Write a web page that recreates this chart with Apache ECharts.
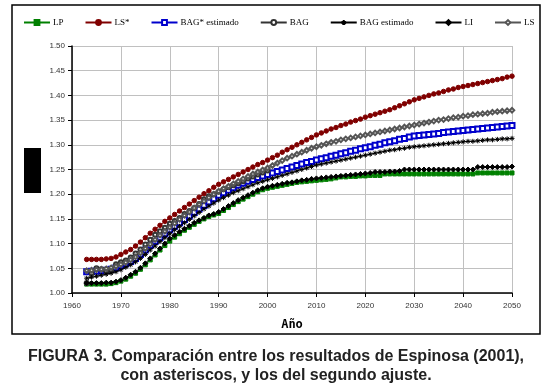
<!DOCTYPE html>
<html lang="es">
<head>
    <meta charset="UTF-8">
    <script src="https://cdn.jsdelivr.net/npm/echarts@6/dist/echarts.min.js"></script>
    <style>
        body { margin: 0; background: #fff; }
    </style>
</head>
<body>
<div id="chart" style="width: 553px;height: 392px"></div>
<script>
    // años 1963 - 2050
    var years = [];
    for (var y = 1963; y <= 2050; y++) years.push(y);

    var xTicks = [1960, 1970, 1980, 1990, 2000, 2010, 2020, 2030, 2040, 2050];
    var yTicks = [1.00, 1.05, 1.10, 1.15, 1.20, 1.25, 1.30, 1.35, 1.40, 1.45, 1.50];

    var names = ['LP', 'LS*', 'BAG* estimado', 'BAG', 'BAG estimado', 'LI', 'LS'];

    var lp = [1.018, 1.018, 1.018, 1.018, 1.018, 1.019, 1.021,
        1.024, 1.028, 1.034, 1.040, 1.048, 1.057, 1.067, 1.077, 1.087, 1.096,
        1.105, 1.113, 1.120, 1.127, 1.133, 1.139, 1.145, 1.150, 1.155, 1.158,
        1.161, 1.167, 1.173, 1.179, 1.185, 1.190, 1.195, 1.200, 1.205, 1.209,
        1.212, 1.214, 1.216, 1.218, 1.220, 1.222, 1.224, 1.225, 1.226, 1.227,
        1.228, 1.229, 1.230, 1.231, 1.233, 1.235, 1.235, 1.236, 1.236, 1.237,
        1.237, 1.238, 1.238, 1.238, 1.241, 1.241, 1.241, 1.241, 1.241, 1.241,
        1.241, 1.241, 1.241, 1.241, 1.241, 1.241, 1.241, 1.241, 1.241, 1.241,
        1.241, 1.241, 1.241, 1.243, 1.243, 1.243, 1.243, 1.243, 1.243, 1.243, 1.243];

    var lsEsp = [1.068, 1.068, 1.068, 1.068, 1.069, 1.070, 1.073,
        1.078, 1.083, 1.088, 1.095, 1.103, 1.112, 1.121, 1.129, 1.137, 1.145,
        1.152, 1.159, 1.166, 1.173, 1.180, 1.187, 1.194, 1.201, 1.207, 1.214,
        1.220, 1.225, 1.230, 1.235, 1.240, 1.245, 1.250, 1.255, 1.260, 1.264,
        1.269, 1.274, 1.279, 1.285, 1.290, 1.295, 1.300, 1.305, 1.310, 1.315,
        1.320, 1.324, 1.328, 1.332, 1.335, 1.339, 1.342, 1.346, 1.349, 1.352,
        1.356, 1.359, 1.362, 1.365, 1.368, 1.371, 1.375, 1.379, 1.383, 1.387,
        1.391, 1.394, 1.397, 1.400, 1.403, 1.405, 1.408, 1.411, 1.413, 1.416,
        1.418, 1.420, 1.422, 1.424, 1.426, 1.428, 1.430, 1.432, 1.434, 1.437, 1.439];

    var bagEspEst = [1.043, 1.044, 1.044, 1.045, 1.046, 1.048, 1.051,
        1.055, 1.059, 1.064, 1.070, 1.078, 1.087, 1.096, 1.104, 1.112, 1.120,
        1.128, 1.135, 1.142, 1.149, 1.156, 1.163, 1.170, 1.177, 1.184, 1.191,
        1.198, 1.203, 1.208, 1.213, 1.218, 1.222, 1.226, 1.230, 1.234, 1.237,
        1.240, 1.243, 1.246, 1.249, 1.252, 1.255, 1.258, 1.261, 1.264, 1.266,
        1.269, 1.272, 1.274, 1.277, 1.279, 1.282, 1.284, 1.287, 1.289, 1.292,
        1.294, 1.296, 1.299, 1.301, 1.304, 1.306, 1.308, 1.311, 1.313, 1.316,
        1.318, 1.319, 1.320, 1.321, 1.322, 1.323, 1.325, 1.326, 1.327, 1.328,
        1.329, 1.330, 1.331, 1.332, 1.333, 1.334, 1.335, 1.336, 1.337, 1.338, 1.339];

    // BAG observado, 1963 - 2000
    var bag = [1.020, 1.040, 1.050, 1.048, 1.044, 1.046, 1.058,
        1.062, 1.066, 1.072, 1.080, 1.088, 1.098, 1.108, 1.118, 1.125, 1.132,
        1.140, 1.146, 1.152, 1.160, 1.166, 1.172, 1.180, 1.190, 1.196, 1.200,
        1.205, 1.210, 1.214, 1.218, 1.222, 1.226, 1.232, 1.236, 1.240, 1.244,
        1.248];

    var bagEst = [1.030, 1.032, 1.034, 1.036, 1.038, 1.040, 1.043,
        1.047, 1.052, 1.057, 1.063, 1.070, 1.078, 1.087, 1.095, 1.104, 1.112,
        1.120, 1.128, 1.135, 1.142, 1.149, 1.156, 1.163, 1.170, 1.176, 1.182,
        1.188, 1.193, 1.198, 1.203, 1.207, 1.211, 1.215, 1.219, 1.223, 1.226,
        1.229, 1.232, 1.235, 1.238, 1.241, 1.244, 1.247, 1.250, 1.253, 1.256,
        1.259, 1.261, 1.263, 1.265, 1.267, 1.269, 1.271, 1.273, 1.275, 1.277,
        1.279, 1.281, 1.283, 1.285, 1.287, 1.289, 1.290, 1.292, 1.293, 1.295,
        1.296, 1.297, 1.298, 1.299, 1.300, 1.301, 1.302, 1.303, 1.304, 1.305,
        1.306, 1.307, 1.307, 1.308, 1.309, 1.310, 1.310, 1.311, 1.312, 1.312, 1.313];

    var li = [1.020, 1.020, 1.020, 1.020, 1.021, 1.021, 1.023,
        1.026, 1.031, 1.037, 1.043, 1.051, 1.060, 1.070, 1.080, 1.090, 1.100,
        1.110, 1.117, 1.124, 1.130, 1.136, 1.142, 1.147, 1.152, 1.157, 1.160,
        1.164, 1.170, 1.176, 1.182, 1.188, 1.193, 1.198, 1.203, 1.208, 1.212,
        1.215, 1.217, 1.219, 1.221, 1.223, 1.224, 1.226, 1.228, 1.229, 1.231,
        1.232, 1.233, 1.234, 1.235, 1.236, 1.237, 1.238, 1.239, 1.240, 1.241,
        1.242, 1.243, 1.245, 1.245, 1.245, 1.246, 1.246, 1.247, 1.250, 1.250,
        1.250, 1.250, 1.250, 1.250, 1.250, 1.250, 1.250, 1.250, 1.250, 1.250,
        1.250, 1.250, 1.250, 1.255, 1.255, 1.255, 1.255, 1.255, 1.255, 1.255, 1.256];

    var ls = [1.045, 1.046, 1.047, 1.048, 1.049, 1.051, 1.054,
        1.058, 1.062, 1.067, 1.073, 1.081, 1.090, 1.099, 1.108, 1.117, 1.125,
        1.133, 1.141, 1.149, 1.157, 1.164, 1.172, 1.179, 1.186, 1.193, 1.200,
        1.206, 1.211, 1.216, 1.221, 1.226, 1.231, 1.236, 1.241, 1.245, 1.249,
        1.253, 1.258, 1.263, 1.268, 1.273, 1.277, 1.281, 1.285, 1.289, 1.293,
        1.296, 1.299, 1.302, 1.305, 1.307, 1.310, 1.312, 1.314, 1.316, 1.318,
        1.320, 1.322, 1.324, 1.326, 1.328, 1.330, 1.332, 1.334, 1.336, 1.338,
        1.340, 1.342, 1.344, 1.346, 1.348, 1.350, 1.351, 1.353, 1.355, 1.356,
        1.358, 1.359, 1.361, 1.362, 1.363, 1.364, 1.366, 1.367, 1.368, 1.369, 1.370];

    function pairs(vals) {
        return vals.map(function (v, i) { return [years[i], v]; });
    }

    var asterisk = 'path://M5 0L5 10M0 5L10 5M1.5 1.5L8.5 8.5M8.5 1.5L1.5 8.5';

    function serie(name, vals, color, symbol, size, z) {
        return {
            name: name,
            type: 'line',
            data: pairs(vals),
            symbol: symbol,
            symbolSize: size,
            showAllSymbol: true,
            z: z,
            lineStyle: { color: color, width: 1 },
            itemStyle: { color: color, borderColor: color, borderWidth: 1 }
        };
    }

    var mycharts = echarts.init(document.getElementById('chart'));
    var option = {
        animation: false,
        backgroundColor: '#fff',
        legend: {
            left: 18,
            top: 13,
            itemWidth: 26,
            itemHeight: 6,
            itemGap: 21,
            textStyle: { fontFamily: 'Liberation Serif', fontSize: 9, color: '#000', padding: [0, 0, 0, -2] },
            data: names
        },
        grid: { left: 72, right: 41, top: 46, bottom: 99 },
        xAxis: {
            type: 'value',
            min: xTicks[0],
            max: xTicks[xTicks.length - 1],
            interval: 10,
            name: 'Año',
            nameLocation: 'middle',
            nameGap: 26,
            nameTextStyle: { fontFamily: 'DejaVu Sans Mono', fontWeight: 'bold', fontSize: 12, color: '#000' },
            axisLine: { lineStyle: { color: '#000', width: 1.5 } },
            axisTick: { show: true, length: 4, lineStyle: { color: '#000' } },
            axisLabel: {
                margin: 9, fontSize: 8, color: '#333', fontFamily: 'Liberation Sans',
                formatter: function (v) { return String(v); }
            },
            splitLine: { show: true, lineStyle: { color: '#c0c0c0', width: 1 } }
        },
        yAxis: {
            type: 'value',
            min: yTicks[0],
            max: yTicks[yTicks.length - 1],
            interval: 0.05,
            axisLine: { show: true, lineStyle: { color: '#000', width: 1.5 } },
            axisTick: { show: true, length: 4, lineStyle: { color: '#000' } },
            axisLabel: {
                margin: 7, fontSize: 8, color: '#333', fontFamily: 'Liberation Sans',
                formatter: function (v) { return v.toFixed(2); }
            },
            splitLine: { show: true, lineStyle: { color: '#c0c0c0', width: 1 } }
        },
        graphic: [
            { type: 'rect', shape: { x: 12, y: 5, width: 528, height: 329 }, style: { fill: 'none', stroke: '#000', lineWidth: 1.5 }, silent: true },
            { type: 'rect', shape: { x: 24, y: 148, width: 17, height: 45 }, style: { fill: '#000' }, silent: true },
            { type: 'text', x: 276, y: 349, style: { text: 'FIGURA 3. Comparación entre los resultados de Espinosa (2001),', font: 'bold 16px "Liberation Sans"', fill: '#222', align: 'center' } },
            { type: 'text', x: 276, y: 368, style: { text: 'con asteriscos, y los del segundo ajuste.', font: 'bold 16px "Liberation Sans"', fill: '#222', align: 'center' } }
        ],
        series: [
            serie(names[0], lp, '#008000', 'rect', 4, 2),
            serie(names[1], lsEsp, '#800000', 'circle', 4.5, 3),
            serie(names[2], bagEspEst, '#0000cc', 'emptyRect', 5, 4),
            serie(names[3], bag, '#333333', 'emptyCircle', 4, 5),
            serie(names[4], bagEst, '#000000', asterisk, 5, 6),
            serie(names[5], li, '#000000', 'diamond', 5, 7),
            serie(names[6], ls, '#555555', 'emptyDiamond', 4.5, 8)
        ]
    };
    mycharts.setOption(option);
</script>
</body>
</html>
